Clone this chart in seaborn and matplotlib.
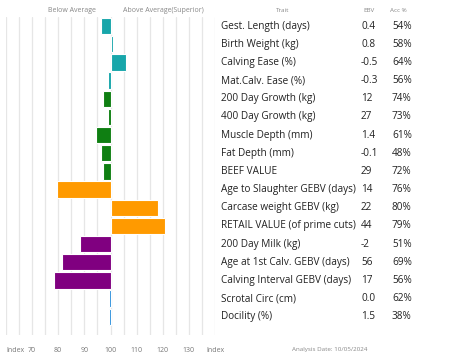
import matplotlib
matplotlib.use("Agg")
import matplotlib.pyplot as plt
import matplotlib.transforms as mtransforms
import seaborn as sns
import pandas as pd

traits = ["Gest. Length (days)", "Birth Weight (kg)", "Calving Ease (%)", "Mat.Calv. Ease (%)",
          "200 Day Growth (kg)", "400 Day Growth (kg)", "Muscle Depth (mm)", "Fat Depth (mm)",
          "BEEF VALUE", "Age to Slaughter GEBV (days)", "Carcase weight GEBV (kg)",
          "RETAIL VALUE (of prime cuts)", "200 Day Milk (kg)", "Age at 1st Calv. GEBV (days)",
          "Calving Interval GEBV (days)", "Scrotal Circ (cm)", "Docility (%)"]
ebv = ["0.4", "0.8", "-0.5", "-0.3", "12", "27", "1.4", "-0.1", "29", "14", "22", "44",
       "-2", "56", "17", "0.0", "1.5"]
acc = ["54%", "58%", "64%", "56%", "74%", "73%", "61%", "48%", "72%", "76%", "80%", "79%",
       "51%", "69%", "56%", "62%", "38%"]
index_values = [96.3, 101, 106, 99, 97, 99.2, 94.5, 96.3, 97.2, 79.5, 118, 121,
                88.2, 81.3, 78.5, 99.3, 99.3]
groups = ["calving"] * 4 + ["growth"] * 5 + ["carcase"] * 3 + ["fertility"] * 3 + ["other"] * 2
group_colors = {"calving": "#17a6aa", "growth": "#0f7f12", "carcase": "#ff9a00",
                "fertility": "#800080", "other": "#2b8fdc"}
tick_values = [60, 70, 80, 90, 100, 110, 120, 130, 140]
tick_labels = ["Index", "70", "80", "90", "100", "110", "120", "130", "Index"]

base = 100
df = pd.DataFrame({"trait": traits, "dev": [v - base for v in index_values], "group": groups})

sns.set_theme(style="white")
plt.rcParams["font.family"] = ["Open Sans", "DejaVu Sans"]

W, H = 453, 362
fig = plt.figure(figsize=(W / 100, H / 100), dpi=100)
ax = fig.add_axes([6 / W, 1 - 335 / H, (215 - 6) / W, (335 - 17) / H])

for g in range(60, 141, 5):
    ax.axvline(g - base, color="#e6e6e6", lw=0.9, zorder=0)

sns.barplot(data=df, x="dev", y="trait", hue="trait",
            palette=[group_colors[g] for g in groups], legend=False, saturation=1,
            orient="h", width=0.9, edgecolor="white", linewidth=0.8, ax=ax, zorder=2)

n = len(traits)
ax.set_xlim(60 - base, 140 - base)
ax.set_ylim(n - 1 + 1.0, -0.5)
ax.set_xticks([t - base for t in tick_values])
ax.set_xticklabels(tick_labels, fontsize=5, color="#777777")
ax.tick_params(axis="x", length=0, pad=9)
ax.get_xticklabels()[0].set_ha("left")
ax.get_xticklabels()[0].set_x(60 - base)
ax.set_yticks([])
ax.set_xlabel("")
ax.set_ylabel("")
for s in ax.spines.values():
    s.set_visible(False)

# Table text
trans = mtransforms.blended_transform_factory(fig.transFigure, ax.transData)
for i, (t, e, a) in enumerate(zip(traits, ebv, acc)):
    fig.text(221 / W, i, t, transform=trans, fontsize=7.2, color="#222222", va="center", ha="left")
    fig.text(361 / W, i, e, transform=trans, fontsize=7.2, color="#222222", va="center", ha="left")
    fig.text(392 / W, i, a, transform=trans, fontsize=7.2, color="#222222", va="center", ha="left")

hdr_y = 1 - 10 / H
fig.text(283 / W, hdr_y, "Trait", fontsize=4.5, color="#888888", ha="center", va="center")
fig.text(369 / W, hdr_y, "EBV", fontsize=4.5, color="#888888", ha="center", va="center")
fig.text(398 / W, hdr_y, "Acc %", fontsize=4.5, color="#888888", ha="center", va="center")
fig.text(72 / W, 1 - 11 / H, "Below Average", fontsize=5, color="#888888", ha="center", va="center")
fig.text(163 / W, 1 - 11 / H, "Above Average(Superior)", fontsize=5, color="#888888", ha="center", va="center")
fig.text(330 / W, 1 - 350 / H, "Analysis Date: 10/05/2024", fontsize=4.5, color="#888888",
         ha="center", va="center")

fig.savefig("out.png", dpi=100, facecolor="white")
